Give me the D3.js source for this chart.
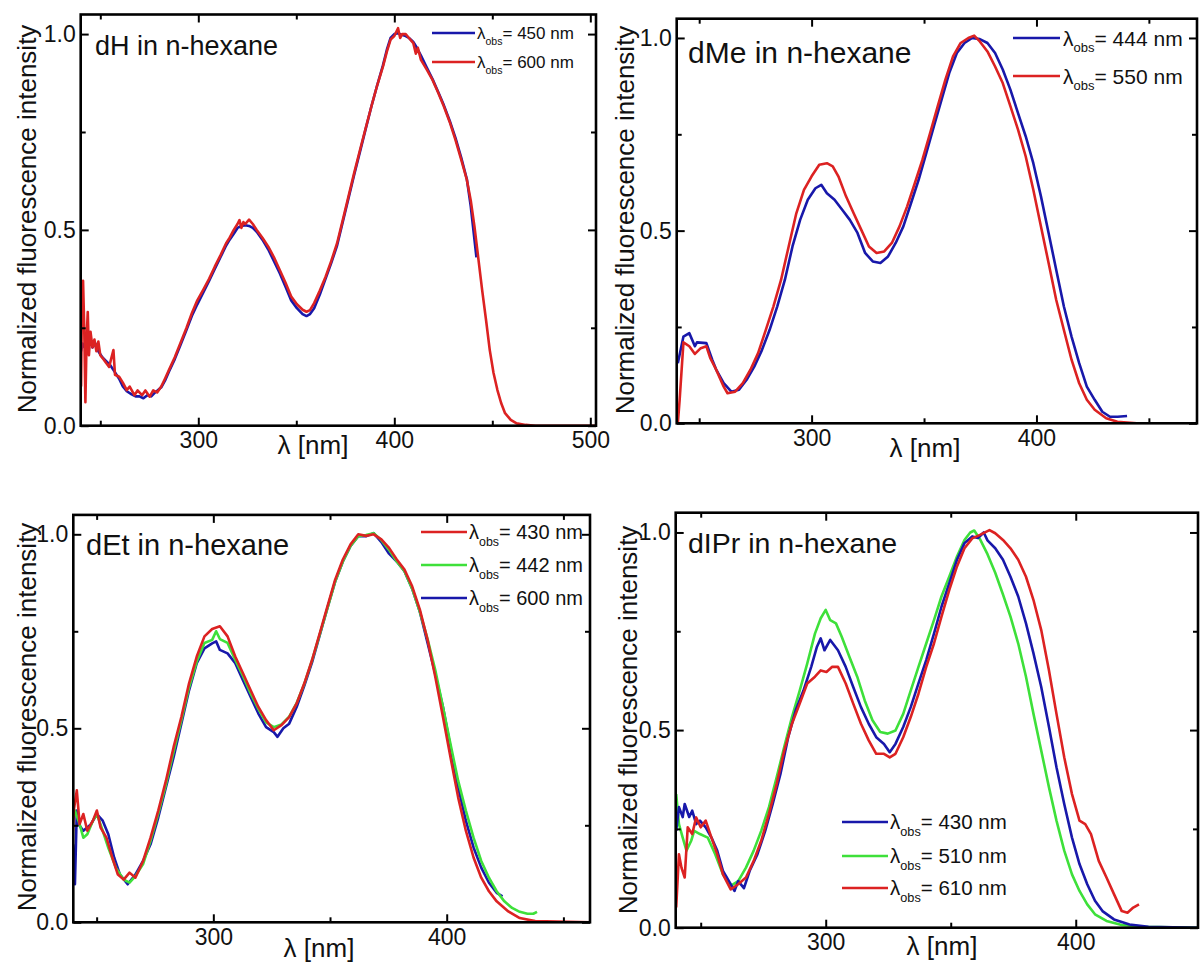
<!DOCTYPE html>
<html>
<head>
<meta charset="utf-8">
<script src="https://cdn.jsdelivr.net/npm/d3@7"></script>
<style>
  body { margin: 0; background: #fff; }
  svg { display: block; font-family: "Liberation Sans", Arial, sans-serif; }
</style>
</head>
<body>
<svg id="chart" width="1200" height="965"></svg>
<script>
// ---- data: [wavelength nm, normalized intensity] ----
const dH_450 = [[240.2,.19],[241,.21],[242,.2],[243,.225],[244,.205],[245,.22],[246,.2],[247.5,.21],[249,.19],[251,.175],[253,.165],[255,.155],[257,.14],[259.6,.12],[261.5,.1],[263.5,.088],[266,.08],[268,.075],[270,.075],[272,.07],[274,.078],[276,.075],[278,.085],[281.1,.098],[283,.115],[285,.138],[288,.17],[290.8,.205],[294,.245],[296.7,.28],[299.5,.31],[302.5,.34],[305.5,.37],[308.4,.4],[311.3,.43],[314.2,.46],[316,.475],[318.1,.49],[320,.505],[322,.51],[324,.512],[325.9,.51],[327.8,.505],[329.8,.495],[332.7,.475],[335.7,.45],[338.6,.42],[341.5,.39],[344.5,.355],[347.4,.32],[350.3,.3],[353.2,.285],[355.2,.28],[357,.285],[359.1,.3],[362,.335],[364.9,.375],[367.8,.415],[370.8,.46],[373.7,.52],[376.6,.58],[379.5,.64],[382.5,.7],[385.4,.758],[388.3,.815],[391.2,.868],[394.2,.92],[396.2,.96],[398.1,.99],[400,1.0],[401.9,1.002],[403.8,.998],[405.8,.995],[407.5,.99],[409.7,.98],[411.5,.965],[413.6,.945],[416.5,.915],[419.5,.885],[422.4,.852],[425.3,.818],[428.3,.778],[431.2,.735],[434.1,.685],[437,.63],[439,.56],[441.9,.43]];
const dH_600 = [[240.2,.10],[240.6,.30],[241.2,.37],[241.8,.25],[242.4,.06],[243,.22],[243.6,.29],[244.2,.18],[245,.24],[246,.20],[247,.22],[248,.19],[249,.215],[250,.18],[251.9,.168],[253,.16],[254.5,.15],[255.5,.17],[256.7,.193],[257.5,.13],[259.6,.125],[261.5,.11],[263.5,.091],[265,.1],[267.4,.078],[269,.09],[271.3,.078],[273,.09],[275.2,.074],[277,.09],[279,.085],[281.1,.1],[283,.12],[285,.142],[288,.175],[290.8,.21],[294,.25],[296.7,.287],[299.5,.32],[302.5,.347],[305.5,.375],[308.4,.406],[311.3,.435],[314.2,.466],[316,.48],[318.1,.5],[320,.515],[321,.525],[322,.505],[323,.52],[324,.515],[325.9,.526],[327.8,.515],[329.8,.5],[332.7,.48],[335.7,.457],[338.6,.43],[341.5,.398],[344.5,.365],[347.4,.33],[350.3,.31],[353.2,.296],[355.2,.291],[357,.295],[359.1,.313],[362,.345],[364.9,.38],[367.8,.42],[370.8,.466],[373.7,.525],[376.6,.585],[379.5,.645],[382.5,.704],[385.4,.76],[388.3,.815],[391.2,.868],[394.2,.917],[396.2,.955],[398.1,.986],[400,.995],[401.9,1.015],[403,.99],[404,1.0],[405.8,1.0],[407.5,.99],[409.7,.977],[411,.95],[412,.965],[413.6,.934],[416.5,.91],[419.5,.883],[422.4,.85],[425.3,.815],[428.3,.775],[431.2,.73],[434.1,.68],[437,.628],[439,.575],[440.9,.508],[442.8,.43],[444.8,.347],[446.8,.27],[448.7,.193],[450.6,.135],[452.6,.091],[454.5,.058],[456.5,.032],[459.4,.015],[462.4,.006],[467,.002],[472.1,0],[503,0]];

const dMe_444 = [[240.5,.156],[243,.225],[245.6,.234],[248.1,.2],[249,.21],[253.2,.208],[255.8,.165],[257.5,.14],[260.9,.104],[264.3,.082],[267.7,.087],[271.1,.113],[274.5,.147],[277.9,.19],[281.3,.242],[284.7,.303],[288.1,.372],[291.5,.459],[294.9,.528],[298.3,.58],[301.7,.61],[304.3,.619],[306.8,.597],[310.2,.58],[313.6,.554],[317,.528],[320.4,.494],[323.8,.442],[327.2,.42],[330.6,.416],[334,.433],[337.4,.468],[340.8,.511],[344.2,.571],[347.6,.632],[351,.701],[354.4,.771],[357.8,.84],[361.2,.909],[364.6,.961],[368,.987],[371.4,1.0],[374.8,.997],[378.2,.987],[381.6,.961],[385,.918],[388.4,.866],[391.8,.805],[395.2,.745],[398.6,.675],[402,.589],[405.4,.494],[408.8,.398],[412.2,.303],[415.6,.225],[419,.156],[422.4,.095],[425.9,.061],[429.3,.03],[432.7,.017],[436.1,.017],[440.3,.019]];
const dMe_550 = [[240.5,0],[241.3,.06],[243,.21],[245.6,.2],[248.1,.18],[250.7,.195],[253.2,.2],[254.9,.17],[257.5,.14],[260.9,.095],[262.6,.078],[266,.082],[269.4,.104],[272.8,.139],[276.2,.182],[279.6,.242],[283,.303],[286.4,.372],[289.8,.459],[293.2,.545],[296.6,.606],[300,.641],[303.4,.671],[306.8,.675],[309.4,.667],[311.9,.641],[315.3,.589],[318.7,.545],[322.1,.502],[325.5,.459],[328.9,.442],[332.3,.446],[335.7,.468],[339.1,.511],[342.5,.563],[345.9,.623],[349.3,.684],[352.7,.753],[356.1,.823],[359.5,.892],[362.9,.952],[366.3,.987],[369.7,1.0],[372.3,1.006],[374.8,.991],[378.2,.965],[381.6,.926],[385,.883],[388.4,.823],[391.8,.762],[395.2,.693],[398.6,.606],[402,.511],[405.4,.416],[408.8,.32],[412.2,.242],[415.6,.165],[419,.104],[422.4,.061],[425.9,.035],[431,.013],[436,.004],[444.6,0],[471,0]];

const dEt_430 = [[239.4,.184],[240.2,.288],[241.5,.34],[242.7,.253],[244.3,.279],[246,.236],[248.4,.262],[250.1,.288],[251.7,.244],[254.2,.218],[256.7,.167],[259.1,.123],[261.6,.11],[264.1,.128],[266.6,.115],[269.9,.158],[273.1,.218],[276.4,.288],[279.7,.365],[283,.452],[286.3,.529],[289.6,.616],[292.9,.685],[296.2,.737],[299.5,.756],[302.8,.763],[306.1,.737],[309.4,.685],[312.7,.642],[316,.598],[319.3,.555],[322.6,.521],[325.9,.495],[329.2,.508],[332.5,.529],[335.7,.564],[339,.616],[342.3,.676],[345.6,.745],[348.9,.814],[352.2,.883],[355.5,.935],[358.8,.974],[362.1,1.0],[365.4,.996],[368.7,1.0],[372,.987],[375.3,.965],[378.6,.935],[381.9,.909],[385.2,.866],[388.5,.806],[391.8,.728],[395.1,.633],[398.4,.529],[401.6,.426],[404.9,.322],[408.2,.236],[411.5,.167],[414.8,.115],[418.1,.08],[421.4,.054],[426.4,.028],[431.3,.011],[437.9,.003],[461.4,0]];
const dEt_442 = [[239.4,.253],[240.7,.288],[242.7,.253],[244.3,.218],[246,.227],[248.4,.262],[250.1,.279],[252.6,.236],[255,.192],[258.3,.14],[261.6,.11],[264.1,.102],[266.6,.119],[269.9,.15],[273.1,.21],[276.4,.28],[279.7,.355],[283,.44],[286.3,.52],[289.6,.605],[292.9,.672],[296.2,.72],[299.5,.728],[301.2,.75],[302.8,.73],[306.1,.72],[309.4,.676],[312.7,.635],[316,.59],[319.3,.55],[322.6,.515],[325.9,.503],[329.2,.51],[332.5,.53],[335.7,.565],[339,.615],[342.3,.675],[345.6,.742],[348.9,.81],[352.2,.878],[355.5,.93],[358.8,.97],[362.1,.995],[365.4,.998],[368.7,1.003],[372,.985],[375.3,.96],[378.6,.93],[381.9,.905],[385.2,.86],[388.5,.8],[391.8,.73],[395.1,.65],[398.4,.555],[401.6,.46],[404.9,.365],[408.2,.288],[411.5,.218],[414.8,.158],[418.1,.115],[421.4,.08],[424.7,.054],[428,.037],[431.3,.027],[434.6,.022],[437.1,.022],[438.7,.027]];
const dEt_600 = [[239,.046],[239.9,.2],[240.7,.098],[241.5,.288],[242.2,.253],[244.3,.236],[247.6,.253],[250.1,.279],[252.6,.262],[255,.227],[257.5,.167],[260,.123],[263.3,.098],[266.6,.123],[269.9,.158],[273.1,.201],[276.4,.27],[279.7,.348],[283,.426],[286.3,.512],[289.6,.598],[292.9,.668],[296.2,.706],[299.5,.719],[301.2,.724],[302.8,.702],[306.1,.693],[309.4,.668],[312.7,.624],[316,.581],[319.3,.538],[322.6,.503],[325.9,.49],[327.5,.478],[330,.5],[332.5,.512],[335.7,.555],[339,.61],[342.3,.67],[345.6,.74],[348.9,.81],[352.2,.878],[355.5,.93],[358.8,.97],[362.1,.995],[365.4,.995],[368.7,1.003],[372,.98],[375.3,.95],[378.6,.93],[381.9,.905],[385.2,.86],[388.5,.8],[391.8,.72],[395.1,.64],[398.4,.555],[401.6,.452],[404.9,.348],[408.2,.262],[411.5,.193],[414.8,.141],[418.1,.102],[421.4,.076],[423.9,.067]];

const dIPr_430 = [[240.2,.245],[241.3,.305],[242.8,.28],[243.6,.313],[245.4,.28],[246.6,.296],[248.2,.262],[249.7,.271],[252,.254],[254.3,.228],[256.6,.195],[258.9,.144],[262,.11],[263.5,.093],[265,.118],[267.3,.1],[269.6,.144],[272.7,.186],[275.8,.245],[278.8,.313],[281.9,.389],[285,.482],[288,.55],[291.1,.6],[294.2,.66],[296.5,.711],[298,.732],[299.5,.702],[301.8,.728],[304.9,.702],[308,.66],[311,.609],[314.1,.558],[317.2,.516],[320.2,.482],[323.3,.465],[325.6,.444],[327.9,.465],[331,.508],[334,.558],[337.1,.618],[340.2,.677],[343.3,.744],[346.3,.812],[349.4,.871],[352.5,.931],[355.5,.973],[358.6,.99],[360.9,.986],[363.2,1.0],[364.7,.98],[367.8,.96],[370.9,.931],[373.9,.888],[377,.838],[380.1,.77],[383.1,.694],[386.2,.609],[389.3,.508],[392.3,.406],[395.4,.313],[398.5,.228],[401.5,.161],[404.6,.11],[407.7,.068],[410.7,.042],[415.3,.021],[421.5,.008],[429.1,.002],[449,0]];
const dIPr_510 = [[240.2,.338],[241.3,.262],[242.8,.228],[244.3,.195],[246.2,.22],[247.4,.245],[249.7,.237],[252.8,.228],[255.8,.186],[258.9,.135],[262,.106],[265,.118],[268.1,.152],[271.2,.195],[274.2,.245],[277.3,.305],[280.4,.381],[283.4,.457],[286.5,.533],[289.6,.6],[292.6,.668],[295.7,.744],[298,.783],[300,.804],[301.8,.778],[304.1,.77],[306.4,.736],[309.5,.685],[312.6,.635],[315.6,.575],[318.7,.525],[321.8,.495],[324.8,.491],[327.9,.499],[331,.541],[334,.6],[337.1,.66],[340.2,.719],[343.3,.778],[346.3,.838],[349.4,.888],[352.5,.939],[355.5,.981],[357.8,1.0],[359.4,1.005],[361.7,.983],[364.7,.945],[367.8,.898],[370.9,.843],[373.9,.787],[377,.719],[380.1,.635],[383.1,.541],[386.2,.448],[389.3,.355],[392.3,.271],[395.4,.195],[398.5,.135],[401.5,.093],[404.6,.059],[407.7,.034],[412.3,.017],[418.4,.007],[427.6,.002],[449,0]];
const dIPr_610 = [[240.2,.051],[241.3,.186],[242.3,.152],[243.6,.127],[244.8,.254],[246.6,.237],[248.2,.279],[250,.254],[252,.271],[254.3,.228],[256.6,.186],[258.9,.135],[262,.097],[265,.11],[268.1,.127],[271.2,.169],[274.2,.22],[277.3,.288],[280.4,.364],[283.4,.448],[286.5,.516],[289.6,.567],[292.6,.618],[295.7,.635],[298,.651],[300.3,.647],[302.6,.66],[304.9,.66],[308,.618],[311,.567],[314.1,.516],[317.2,.474],[320.2,.44],[323.3,.44],[325.6,.431],[327.9,.44],[331,.482],[334,.533],[337.1,.592],[340.2,.66],[343.3,.719],[346.3,.787],[349.4,.854],[352.5,.914],[355.5,.96],[358.6,.985],[361.7,.994],[365.5,1.006],[367.8,.998],[370.9,.981],[373.9,.96],[377,.931],[380.1,.888],[383.1,.829],[386.2,.753],[389.3,.651],[392.3,.541],[395.4,.431],[398.5,.338],[401.5,.271],[403.8,.262],[406.1,.237],[409.2,.169],[412.3,.127],[415.3,.085],[418.4,.042],[420.7,.038],[423,.051],[425.3,.059]];

const yMajor = [0, 0.5, 1.0];
const yMinor = [0.25, 0.75];

const BLUE = "#1818aa", RED = "#dc2222", GREEN = "#3ee03a";
const FONT_TICK = 23;

const panels = [
  { title: "dH in n-hexane", titleX: 95, titleY: 55, titleSize: 27,
    left: 80.7, right: 596, top: 14.5, bottom: 425.7, xDomain: [240, 502.9],
    xMajor: [300, 400, 500], xMinor: [250, 350, 450],
    yLabelX: 36, yLabelY: 219, xLabelX: 313, xLabelY: 454,
    legend: { x1: 432, x2: 475, tx: 477, ys: [33, 62], size: 17 },
    series: [ { obs: 450, data: dH_450, color: BLUE, z: 0 },
              { obs: 600, data: dH_600, color: RED, z: 1 } ] },
  { title: "dMe in n-hexane", titleX: 688, titleY: 63, titleSize: 30,
    left: 676.7, right: 1197, top: 18.7, bottom: 423.3, xDomain: [240, 471.4],
    xMajor: [300, 400], xMinor: [250, 350, 450],
    yLabelX: 634, yLabelY: 220, xLabelX: 925, xLabelY: 457,
    legend: { x1: 1013, x2: 1060, tx: 1063, ys: [38, 76], size: 21 },
    series: [ { obs: 444, data: dMe_444, color: BLUE, z: 0 },
              { obs: 550, data: dMe_550, color: RED, z: 1 } ] },
  { title: "dEt in n-hexane", titleX: 86, titleY: 555, titleSize: 29,
    left: 73.3, right: 590, top: 514.9, bottom: 922.3, xDomain: [240, 461.4],
    xMajor: [300, 400], xMinor: [250, 350, 450],
    yLabelX: 36, yLabelY: 717, xLabelX: 319, xLabelY: 957,
    legend: { x1: 421, x2: 467, tx: 469, ys: [532, 565, 598], size: 20 },
    series: [ { obs: 430, data: dEt_430, color: RED, z: 2 },
              { obs: 442, data: dEt_442, color: GREEN, z: 1 },
              { obs: 600, data: dEt_600, color: BLUE, z: 0 } ] },
  { title: "dIPr in n-hexane", titleX: 688, titleY: 553, titleSize: 28.5,
    left: 675.7, right: 1198, top: 512.7, bottom: 927.7, xDomain: [240, 448.9],
    xMajor: [300, 400], xMinor: [250, 350],
    yLabelX: 637, yLabelY: 720, xLabelX: 942, xLabelY: 955,
    legend: { x1: 842, x2: 888, tx: 890, ys: [822, 856, 888], size: 20.5 },
    series: [ { obs: 430, data: dIPr_430, color: BLUE, z: 1 },
              { obs: 510, data: dIPr_510, color: GREEN, z: 0 },
              { obs: 610, data: dIPr_610, color: RED, z: 2 } ] }
];

const svg = d3.select("#chart");

panels.forEach((p, pi) => {
  const x = d3.scaleLinear().domain(p.xDomain).range([p.left, p.right]);
  const y = d3.scaleLinear().domain([0, 1.05]).range([p.bottom, p.top]);
  const g = svg.append("g");

  // clip so curves stay inside the frame
  const clipId = "clip" + pi;
  svg.append("clipPath").attr("id", clipId)
    .append("rect")
    .attr("x", p.left).attr("y", p.top)
    .attr("width", p.right - p.left).attr("height", p.bottom - p.top);

  const line = d3.line().x(d => x(d[0])).y(d => y(d[1]));

  g.append("g").attr("clip-path", `url(#${clipId})`)
    .selectAll("path")
    .data(p.series.slice().sort((a, b) => a.z - b.z))
    .enter()
    .append("path")
    .attr("d", d => line(d.data))
    .attr("fill", "none")
    .attr("stroke", d => d.color)
    .attr("stroke-width", 2.6)
    .attr("stroke-linejoin", "round");

  // axes: inward ticks on all four sides, labels only bottom/left
  const styleAxis = sel => {
    sel.select(".domain").remove();
    sel.selectAll("line").attr("stroke", "#000").attr("stroke-width", 2);
    sel.selectAll("text").attr("font-size", FONT_TICK).attr("fill", "#111")
      .attr("font-family", "Liberation Sans, Arial, sans-serif");
  };
  g.append("g").attr("transform", `translate(0,${p.bottom})`)
    .call(d3.axisBottom(x).tickValues(p.xMajor).tickSize(-8).tickSizeOuter(0).tickPadding(6).tickFormat(d3.format("d")))
    .call(styleAxis);
  g.append("g").attr("transform", `translate(0,${p.bottom})`)
    .call(d3.axisBottom(x).tickValues(p.xMinor).tickSize(-5).tickSizeOuter(0).tickFormat(""))
    .call(styleAxis);
  g.append("g").attr("transform", `translate(0,${p.top})`)
    .call(d3.axisTop(x).tickValues(p.xMajor).tickSize(-8).tickSizeOuter(0).tickFormat(""))
    .call(styleAxis);
  g.append("g").attr("transform", `translate(0,${p.top})`)
    .call(d3.axisTop(x).tickValues(p.xMinor).tickSize(-5).tickSizeOuter(0).tickFormat(""))
    .call(styleAxis);
  g.append("g").attr("transform", `translate(${p.left},0)`)
    .call(d3.axisLeft(y).tickValues(yMajor).tickSize(-8).tickSizeOuter(0).tickPadding(5).tickFormat(d3.format(".1f")))
    .call(styleAxis);
  g.append("g").attr("transform", `translate(${p.left},0)`)
    .call(d3.axisLeft(y).tickValues(yMinor).tickSize(-5).tickSizeOuter(0).tickFormat(""))
    .call(styleAxis);
  g.append("g").attr("transform", `translate(${p.right},0)`)
    .call(d3.axisRight(y).tickValues(yMajor).tickSize(-8).tickSizeOuter(0).tickFormat(""))
    .call(styleAxis);
  g.append("g").attr("transform", `translate(${p.right},0)`)
    .call(d3.axisRight(y).tickValues(yMinor).tickSize(-5).tickSizeOuter(0).tickFormat(""))
    .call(styleAxis);

  // frame
  g.append("rect")
    .attr("x", p.left).attr("y", p.top)
    .attr("width", p.right - p.left).attr("height", p.bottom - p.top)
    .attr("fill", "none").attr("stroke", "#000").attr("stroke-width", 2.6);

  // axis titles
  g.append("text")
    .attr("transform", `translate(${p.yLabelX},${p.yLabelY}) rotate(-90)`)
    .attr("text-anchor", "middle")
    .attr("font-size", 26).attr("fill", "#111")
    .text("Normalized fluorescence intensity");
  g.append("text")
    .attr("x", p.xLabelX).attr("y", p.xLabelY)
    .attr("text-anchor", "middle")
    .attr("font-size", 26).attr("fill", "#111")
    .text("λ [nm]");

  // panel title
  g.append("text")
    .attr("x", p.titleX).attr("y", p.titleY)
    .attr("font-size", p.titleSize).attr("fill", "#111")
    .text(p.title);

  // legend
  const L = p.legend;
  p.series.forEach((s, i) => {
    const ly = L.ys[i];
    g.append("line")
      .attr("x1", L.x1).attr("x2", L.x2).attr("y1", ly).attr("y2", ly)
      .attr("stroke", s.color).attr("stroke-width", 2.6);
    const t = g.append("text")
      .attr("x", L.tx).attr("y", ly + L.size * 0.36)
      .attr("font-size", L.size).attr("fill", "#111");
    t.append("tspan").text("λ");
    t.append("tspan").attr("font-size", L.size * 0.62).attr("dy", L.size * 0.32).text("obs");
    t.append("tspan").attr("dy", -L.size * 0.32).text(`= ${s.obs} nm`);
  });
});
</script>
</body>
</html>
